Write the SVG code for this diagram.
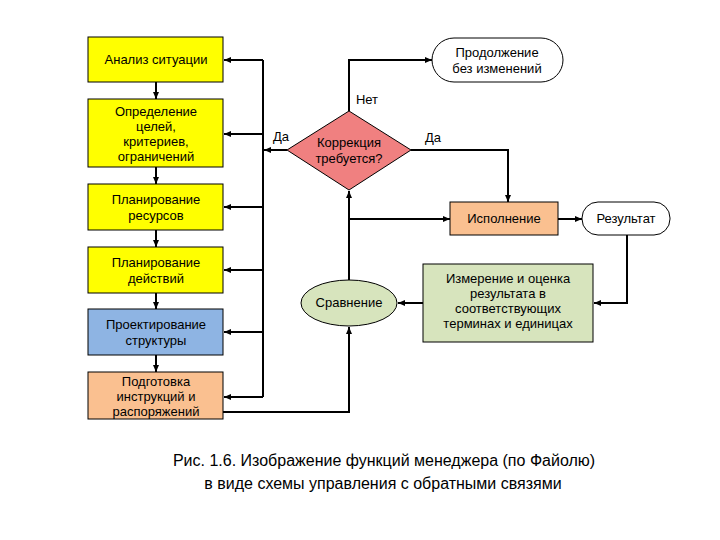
<svg xmlns="http://www.w3.org/2000/svg" width="720" height="540" viewBox="0 0 720 540">
<defs>
<marker id="a" markerWidth="8" markerHeight="8" refX="7" refY="4" orient="auto" markerUnits="userSpaceOnUse"><path d="M0,1 L7,4 L0,7 Z" fill="#000"/></marker>
<style>
text{font-family:"Liberation Sans","DejaVu Sans",sans-serif;font-size:13px;fill:#000;text-anchor:middle}
.b{stroke:#000;stroke-width:1}
.c{fill:none;stroke:#000;stroke-width:2;marker-end:url(#a)}
.t{fill:none;stroke:#000;stroke-width:2}
</style>
</defs>
<rect width="720" height="540" fill="#fff"/>
<g id="connectors">
<path class="c" d="M156,82 V99"/><path class="c" d="M156,167 V184"/><path class="c" d="M156,230 V247"/><path class="c" d="M156,293 V309"/><path class="c" d="M156,355 V372"/>
<path class="t" d="M263,60 V397"/>
<path class="c" d="M263,60 H224"/><path class="c" d="M263,134 H224"/><path class="c" d="M263,207 H224"/><path class="c" d="M263,270 H224"/><path class="c" d="M263,332 H224"/><path class="c" d="M263,397 H224"/>
<path class="c" d="M287,150 H264"/>
<path class="c" d="M349,111 V60 H432"/>
<path class="c" d="M411,150 H508 V202"/>
<path class="c" d="M349,280 V191"/>
<path class="c" d="M349,219 H450"/>
<path class="c" d="M558,219 H582"/>
<path class="c" d="M627,235 V303 H594"/>
<path class="c" d="M423,303 H398"/>
<path class="c" d="M223,412 H349 V327"/>
</g>
<g id="n1"><rect class="b" x="88" y="37" width="135" height="45" fill="#ffff00"/><text x="156" y="64">Анализ ситуации</text></g>
<g id="n2"><rect class="b" x="88" y="99" width="135" height="68" fill="#ffff00"/><text x="156" y="116">Определение</text><text x="156" y="131">целей,</text><text x="156" y="146">критериев,</text><text x="156" y="161">ограничений</text></g>
<g id="n3"><rect class="b" x="88" y="184" width="135" height="46" fill="#ffff00"/><text x="156" y="204">Планирование</text><text x="156" y="220">ресурсов</text></g>
<g id="n4"><rect class="b" x="88" y="247" width="135" height="46" fill="#ffff00"/><text x="156" y="267">Планирование</text><text x="156" y="283">действий</text></g>
<g id="n5"><rect class="b" x="88" y="309" width="135" height="46" fill="#8eb4e3"/><text x="156" y="329">Проектирование</text><text x="156" y="345">структуры</text></g>
<g id="n6"><rect class="b" x="88" y="372" width="135" height="47" fill="#fac090"/><text x="156" y="386">Подготовка</text><text x="156" y="401">инструкций и</text><text x="156" y="416">распоряжений</text></g>
<g id="n7"><polygon class="b" points="349,111 411,150 349,190 287,150" fill="#f08080"/><text x="349" y="147">Коррекция</text><text x="349" y="163">требуется?</text></g>
<g id="n8"><rect class="b" x="432" y="38" width="131" height="44" rx="22" fill="#fff"/><text x="497" y="57">Продолжение</text><text x="497" y="73">без изменений</text></g>
<g id="n9"><rect class="b" x="450" y="202" width="108" height="33" fill="#fac090"/><text x="504" y="223">Исполнение</text></g>
<g id="n10"><rect class="b" x="582" y="202" width="88" height="33" rx="16" fill="#fff"/><text x="626" y="223">Результат</text></g>
<g id="n11"><rect class="b" x="423" y="264" width="170" height="78" fill="#d7e4bd"/><text x="508" y="283">Измерение и оценка</text><text x="508" y="298">результата в</text><text x="508" y="313">соответствующих</text><text x="508" y="328">терминах и единицах</text></g>
<g id="n12"><ellipse class="b" cx="349" cy="303" rx="48" ry="23" fill="#d7e4bd"/><text x="349" y="307">Сравнение</text></g>
<g id="labels"><text x="281" y="141">Да</text><text x="367" y="104">Нет</text><text x="433" y="142">Да</text></g>
<g id="caption"><text x="384" y="466" style="font-size:16px">Рис. 1.6. Изображение функций менеджера (по Файолю)</text><text x="383" y="489" style="font-size:16px">в виде схемы управления с обратными связями</text></g>
</svg>
